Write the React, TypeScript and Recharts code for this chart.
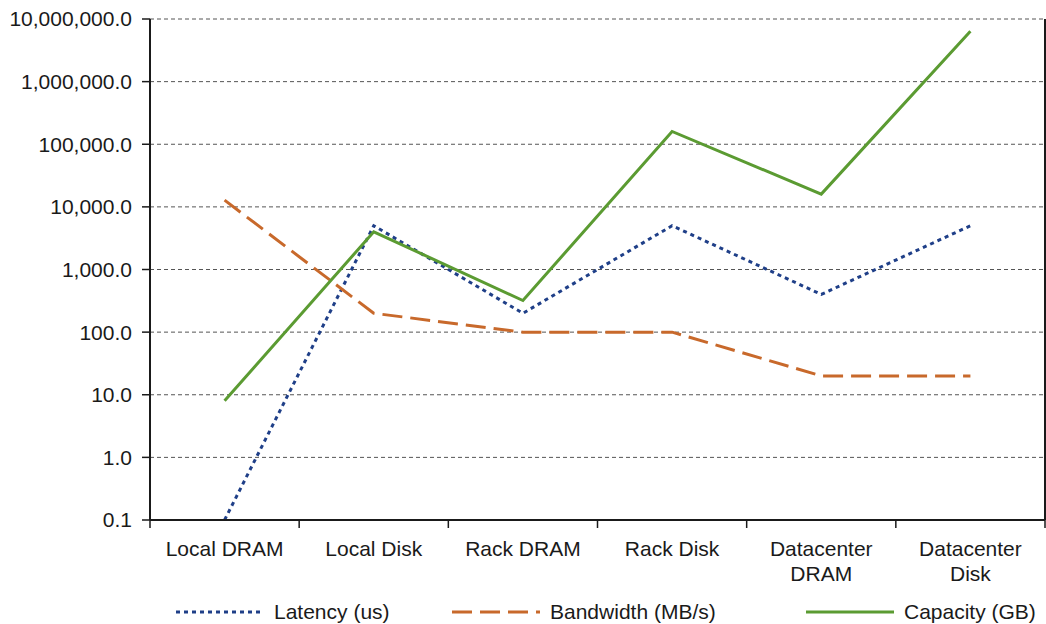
import { CartesianGrid, Legend, Line, LineChart, XAxis, YAxis } from "recharts";

// Storage hierarchy: latency / bandwidth / capacity per tier, log y-axis.
const tiers = [
  "Local DRAM",
  "Local Disk",
  "Rack DRAM",
  "Rack Disk",
  "Datacenter DRAM",
  "Datacenter Disk",
];
const latencyUs = [0.1, 5000, 200, 5000, 400, 5000];
const bandwidthMBs = [12800, 200, 100, 100, 20, 20];
const capacityGB = [8, 4000, 320, 160000, 16000, 6400000];
const yTicks = [0.1, 1, 10, 100, 1000, 10000, 100000, 1000000, 10000000];

const series = [
  { key: "latency", name: "Latency (us)", color: "#1f3f88", dash: "4 4", width: 3 },
  { key: "bandwidth", name: "Bandwidth (MB/s)", color: "#c8692b", dash: "20 8", width: 3 },
  { key: "capacity", name: "Capacity (GB)", color: "#5b9b32", dash: undefined, width: 3 },
];
const legendSlots = [276, 354, 230];

const data = tiers.map((tier, i) => ({
  tier,
  latency: latencyUs[i],
  bandwidth: bandwidthMBs[i],
  capacity: capacityGB[i],
}));

const FONT = "'Liberation Sans', Arial, sans-serif";
const INK = "#1a1a1a";

const fmt = (v: number) =>
  v.toLocaleString("en-US", { minimumFractionDigits: 1, maximumFractionDigits: 1 });

// category label centred in its band, tick marks on the band edges
function TierTick(props: any) {
  const { x, y, payload, index, visibleTicksCount, width } = props;
  const half = payload.offset || width / visibleTicksCount / 2;
  const label = String(payload.value);
  const cut = label.lastIndexOf(" ");
  const lines = label.length > 12 ? [label.slice(0, cut), label.slice(cut + 1)] : [label];
  return (
    <g>
      <line x1={x - half} x2={x - half} y1={y} y2={y + 8} stroke={INK} strokeWidth={1.5} />
      {index === visibleTicksCount - 1 && (
        <line x1={x + half} x2={x + half} y1={y} y2={y + 8} stroke={INK} strokeWidth={1.5} />
      )}
      <text x={x} y={y + 36} textAnchor="middle" fill={INK} fontSize={21} fontFamily={FONT}>
        {lines.map((l, i) => (
          <tspan key={l} x={x} dy={i === 0 ? 0 : 25}>
            {l}
          </tspan>
        ))}
      </text>
    </g>
  );
}

function SeriesLegend() {
  return (
    <div style={{ display: "flex", paddingLeft: 176, fontFamily: FONT, fontSize: 21, color: INK }}>
      {series.map((s, i) => (
        <div
          key={s.key}
          style={{ width: legendSlots[i], flexShrink: 0, display: "flex", alignItems: "center" }}
        >
          <svg width={88} height={24} style={{ marginRight: 10, flexShrink: 0 }}>
            <line
              x1={0}
              x2={88}
              y1={12}
              y2={12}
              stroke={s.color}
              strokeWidth={s.width}
              strokeDasharray={s.dash}
            />
          </svg>
          <span style={{ whiteSpace: "nowrap" }}>{s.name}</span>
        </div>
      ))}
    </div>
  );
}

export default function App() {
  return (
    <div style={{ position: "absolute", left: 0, top: 0, background: "#fff" }}>
      <LineChart
        width={1046}
        height={624}
        data={data}
        margin={{ top: 19, right: 0, bottom: 0, left: 0 }}
      >
        <CartesianGrid vertical={false} stroke="#555" strokeDasharray="4 3" yAxisId="y" />
        <XAxis
          dataKey="tier"
          scale="band"
          height={104}
          axisLine={{ stroke: INK, strokeWidth: 2 }}
          tickLine={false}
          tickSize={0}
          tickMargin={0}
          interval={0}
          tick={<TierTick />}
        />
        <YAxis
          yAxisId="y"
          scale="log"
          domain={[0.1, 10000000]}
          ticks={yTicks}
          allowDataOverflow
          width={150}
          tickSize={8}
          tickMargin={10}
          tickFormatter={fmt}
          axisLine={{ stroke: INK, strokeWidth: 2 }}
          tickLine={{ stroke: INK, strokeWidth: 1.5 }}
          tick={{ fill: INK, fontSize: 21, fontFamily: FONT }}
        />
        <YAxis
          yAxisId="frame"
          orientation="right"
          type="number"
          domain={[0, 1]}
          width={1}
          tick={false}
          tickLine={false}
          axisLine={{ stroke: INK, strokeWidth: 2 }}
        />
        {series.map((s) => (
          <Line
            key={s.key}
            yAxisId="y"
            dataKey={s.key}
            name={s.name}
            stroke={s.color}
            strokeWidth={s.width}
            strokeDasharray={s.dash}
            dot={false}
            activeDot={false}
            isAnimationActive={false}
          />
        ))}
        <Legend
          verticalAlign="middle"
          content={<SeriesLegend />}
          wrapperStyle={{ top: 600, left: 0, width: 1046, height: 24 }}
        />
      </LineChart>
    </div>
  );
}
